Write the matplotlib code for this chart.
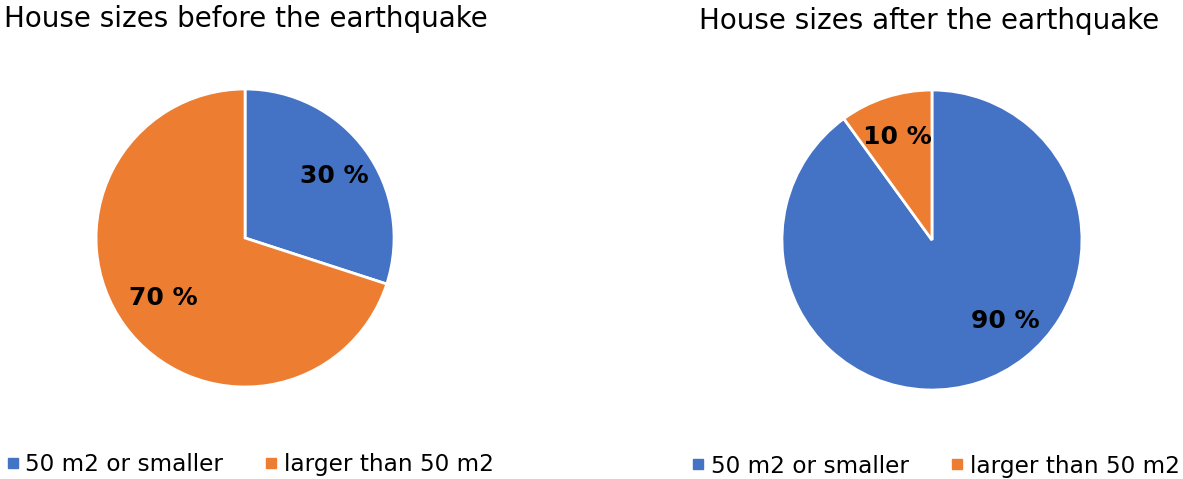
import numpy as np
import matplotlib
matplotlib.use('Agg')
from matplotlib import pyplot as plt
from matplotlib.lines import Line2D

categories = ['50 m2 or smaller', 'larger than 50 m2']
before = [30, 70]
after = [90, 10]
colors = ['#4472C4', '#ED7D31']

plt.rcParams['font.family'] = ['DejaVu Sans']

fig = plt.figure(figsize=(11.83, 4.79), dpi=100)


def draw_pie(rect, values, title, title_xy, legend_xy):
    ax = fig.add_axes(rect)
    wedges, texts, autotexts = ax.pie(
        values, colors=colors, startangle=90, counterclock=False,
        autopct='%d %%', pctdistance=0.74,
        wedgeprops=dict(edgecolor='white', linewidth=2),
        textprops=dict(fontsize=18, fontweight='bold', color='black'))
    ax.set_xlim(-1, 1)
    ax.set_ylim(-1, 1)
    ax.set_aspect('auto')
    for w in wedges:
        w.set_clip_on(False)
    fig.text(title_xy[0], title_xy[1], title, fontsize=20, va='baseline', ha='left')
    handles = [Line2D([], [], marker='s', ls='', color=c, markersize=6.5) for c in colors]
    fig.legend(handles, categories, loc='center left', bbox_to_anchor=legend_xy,
               ncol=2, frameon=False, fontsize=16.7, handlelength=0.45,
               handletextpad=0.32, columnspacing=1.85, borderaxespad=0, borderpad=0)
    return ax, autotexts


ax1, at1 = draw_pie([0.0812, 0.1921, 0.2519, 0.6221], before,
                    'House sizes before the earthquake', (0.003, 0.9436), (0.0062, 0.031))
at1[0].set_y(at1[0].get_position()[1] - 0.02)
at1[1].set_position((0.68 * np.cos(np.radians(-144)), 0.68 * np.sin(np.radians(-144))))

ax2, at2 = draw_pie([0.661, 0.1858, 0.2536, 0.6263], after,
                    'House sizes after the earthquake', (0.591, 0.9395), (0.586, 0.027))
at2[1].set_y(at2[1].get_position()[1] - 0.02)
# the large slice label sits off its bisector
at2[0].set_position((0.73 * np.cos(np.radians(-47.6)), 0.73 * np.sin(np.radians(-47.6))))

fig.savefig('out.png', dpi=100)
